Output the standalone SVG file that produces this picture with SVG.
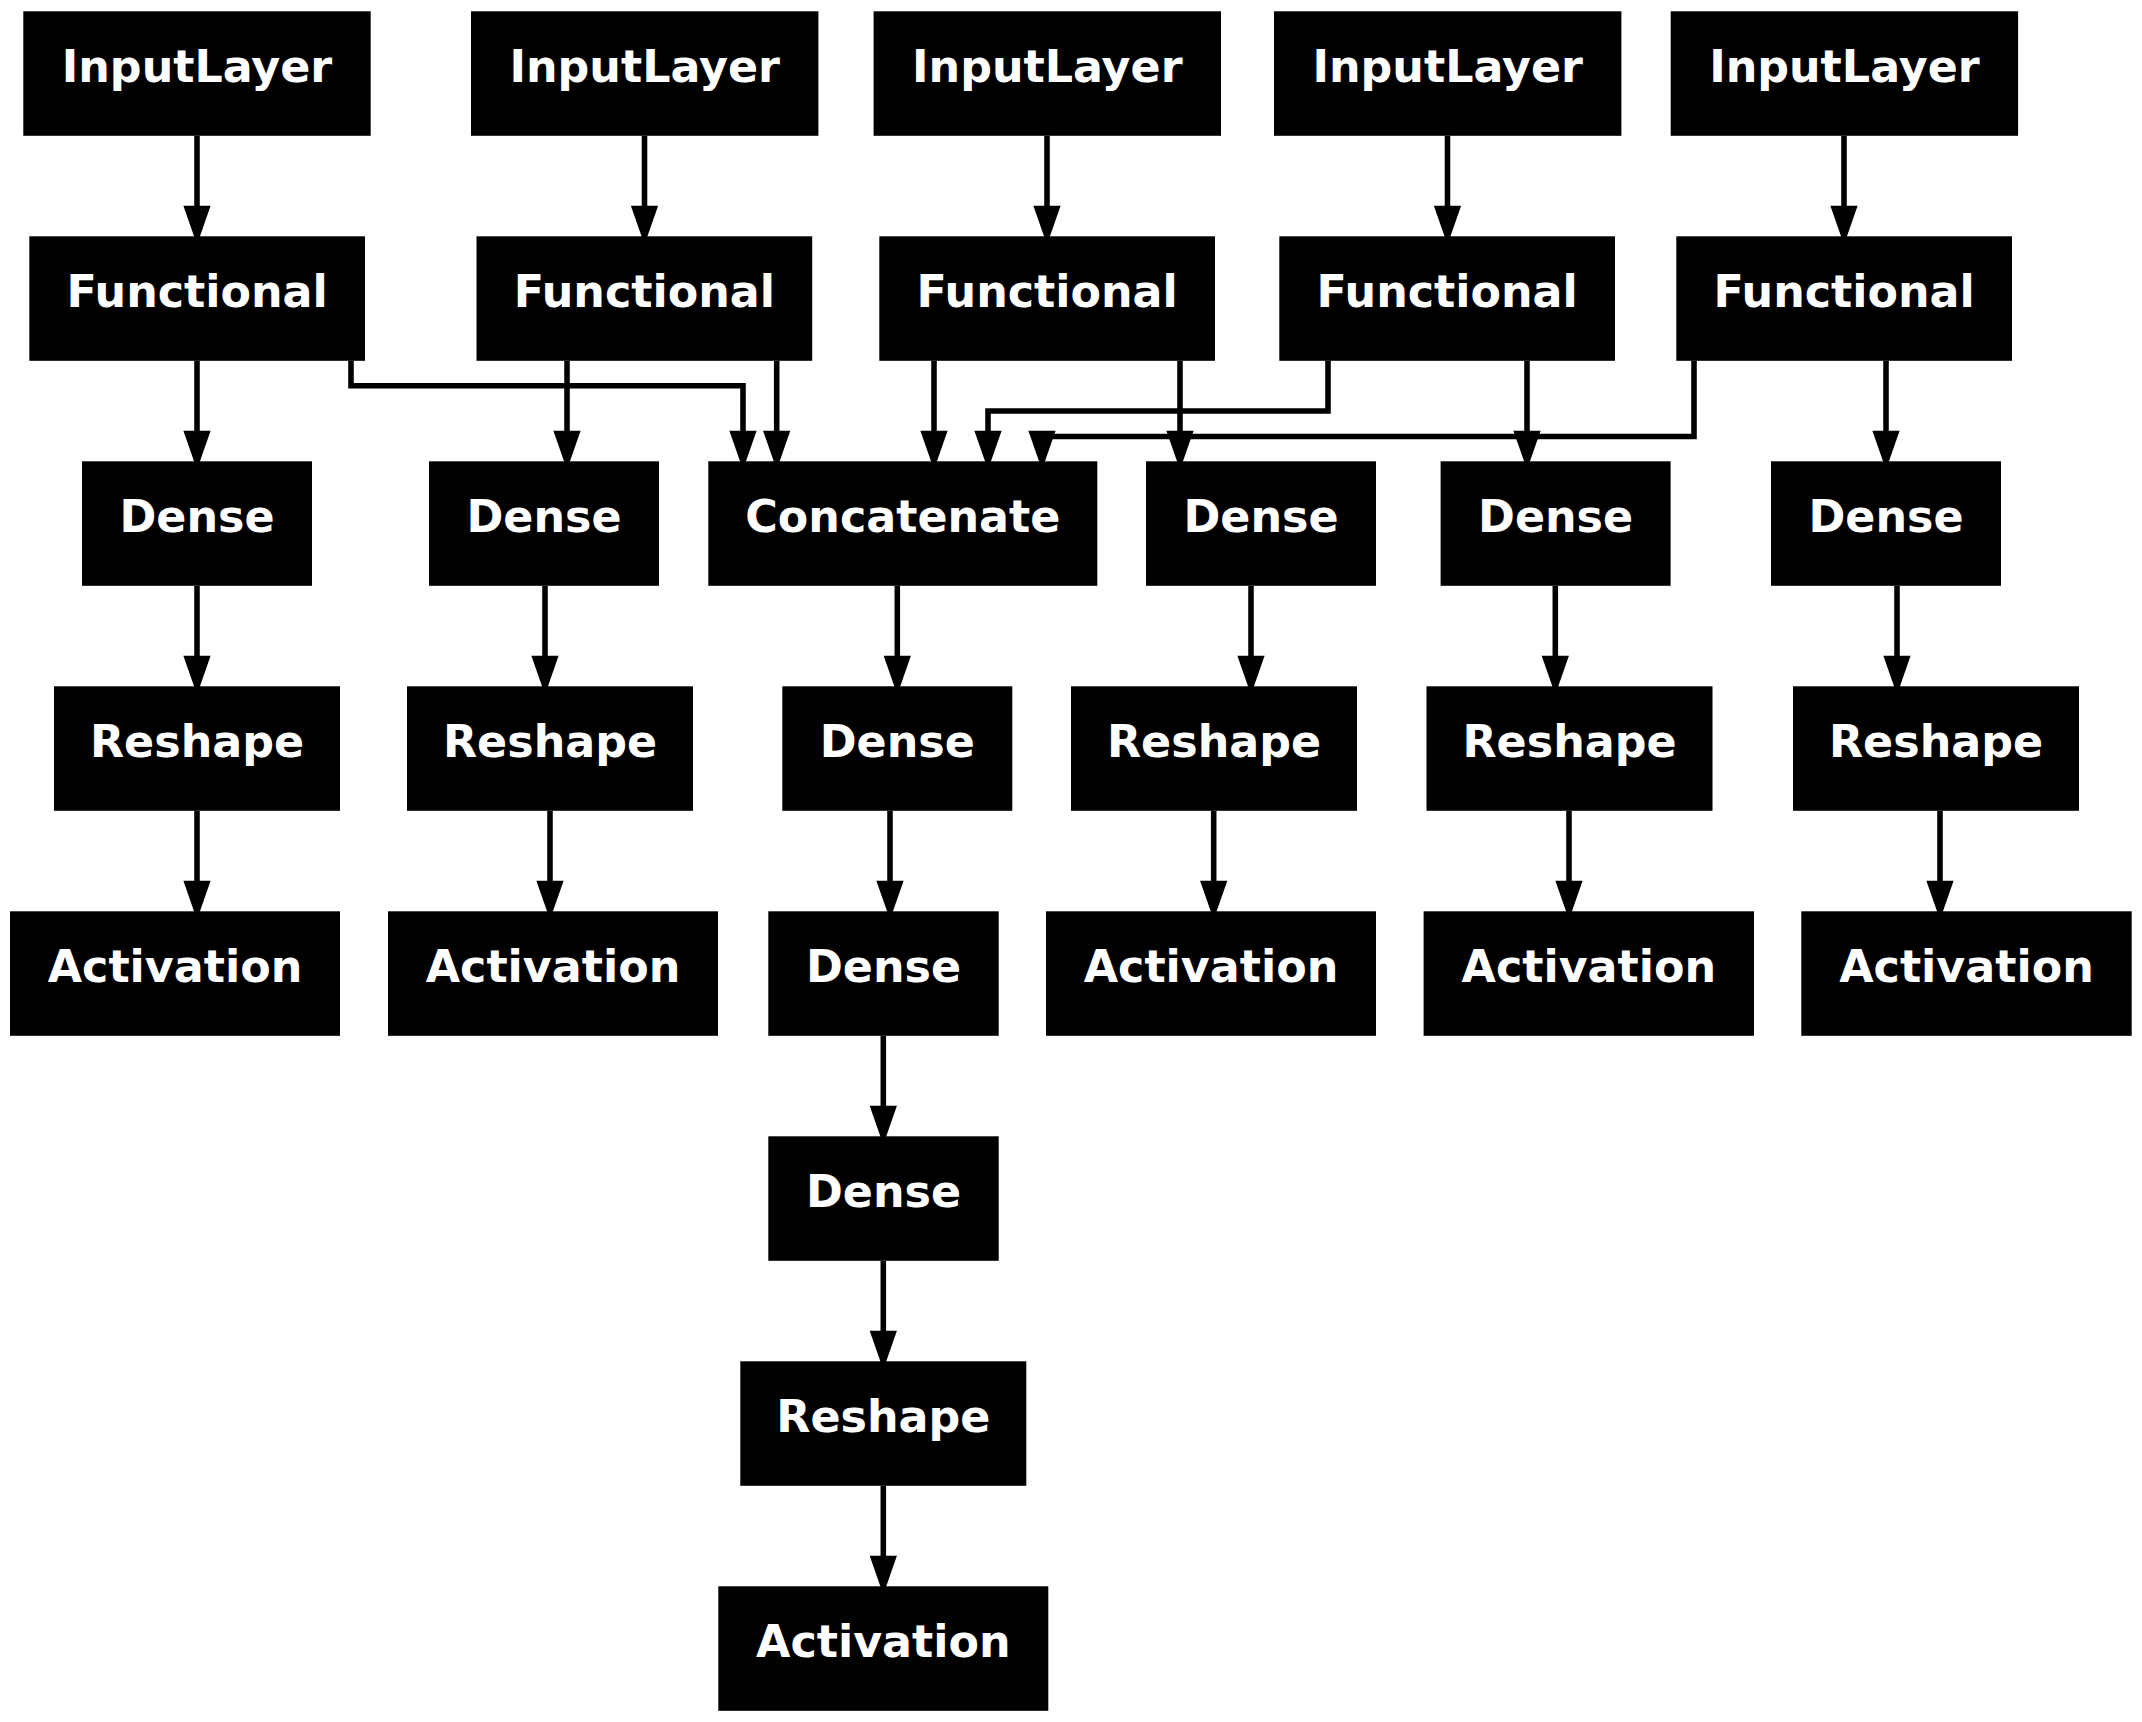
<svg xmlns="http://www.w3.org/2000/svg" width="2142" height="1722" viewBox="0 0 2142 1722">
<defs>
<style>
.n rect{fill:#000;}
.n text{fill:#fff;font-family:"DejaVu Sans","Liberation Sans",sans-serif;font-weight:bold;font-size:44.4px;text-anchor:middle;}
.e path{fill:none;stroke:#000;stroke-width:5.56;}
.e polygon{fill:#000;stroke:#000;stroke-width:5.56;}
</style>
</defs>
<rect width="2142" height="1722" fill="#fff"/>
<g id="nodes">
<g id="il1" class="n"><rect x="23.3" y="11.3" width="347.4" height="124.5"/><text x="197" y="81.7">InputLayer</text></g>
<g id="il2" class="n"><rect x="471" y="11.3" width="347.4" height="124.5"/><text x="644.7" y="81.7">InputLayer</text></g>
<g id="il3" class="n"><rect x="873.6" y="11.3" width="347.4" height="124.5"/><text x="1047.3" y="81.7">InputLayer</text></g>
<g id="il4" class="n"><rect x="1274" y="11.3" width="347.4" height="124.5"/><text x="1447.7" y="81.7">InputLayer</text></g>
<g id="il5" class="n"><rect x="1670.7" y="11.3" width="347.4" height="124.5"/><text x="1844.4" y="81.7">InputLayer</text></g>

<g id="fn1" class="n"><rect x="29.3" y="236.3" width="335.7" height="124.5"/><text x="197.1" y="306.7">Functional</text></g>
<g id="fn2" class="n"><rect x="476.5" y="236.3" width="335.7" height="124.5"/><text x="644.3" y="306.7">Functional</text></g>
<g id="fn3" class="n"><rect x="879.3" y="236.3" width="335.7" height="124.5"/><text x="1047.1" y="306.7">Functional</text></g>
<g id="fn4" class="n"><rect x="1279.3" y="236.3" width="335.7" height="124.5"/><text x="1447.1" y="306.7">Functional</text></g>
<g id="fn5" class="n"><rect x="1676.3" y="236.3" width="335.7" height="124.5"/><text x="1844.1" y="306.7">Functional</text></g>

<g id="d1" class="n"><rect x="82" y="461.3" width="230" height="124.5"/><text x="197" y="531.7">Dense</text></g>
<g id="d2" class="n"><rect x="429" y="461.3" width="230" height="124.5"/><text x="544" y="531.7">Dense</text></g>
<g id="cat" class="n"><rect x="708.3" y="461.3" width="389" height="124.5"/><text x="902.8" y="531.7">Concatenate</text></g>
<g id="d3" class="n"><rect x="1146" y="461.3" width="230" height="124.5"/><text x="1261" y="531.7">Dense</text></g>
<g id="d4" class="n"><rect x="1440.6" y="461.3" width="230" height="124.5"/><text x="1555.6" y="531.7">Dense</text></g>
<g id="d5" class="n"><rect x="1771" y="461.3" width="230" height="124.5"/><text x="1886" y="531.7">Dense</text></g>

<g id="r1" class="n"><rect x="54" y="686.3" width="286" height="124.5"/><text x="197" y="756.7">Reshape</text></g>
<g id="r2" class="n"><rect x="407" y="686.3" width="286" height="124.5"/><text x="550" y="756.7">Reshape</text></g>
<g id="dm1" class="n"><rect x="782.3" y="686.3" width="230" height="124.5"/><text x="897.3" y="756.7">Dense</text></g>
<g id="r3" class="n"><rect x="1071" y="686.3" width="286" height="124.5"/><text x="1214" y="756.7">Reshape</text></g>
<g id="r4" class="n"><rect x="1426.5" y="686.3" width="286" height="124.5"/><text x="1569.5" y="756.7">Reshape</text></g>
<g id="r5" class="n"><rect x="1793" y="686.3" width="286" height="124.5"/><text x="1936" y="756.7">Reshape</text></g>

<g id="a1" class="n"><rect x="10" y="911.3" width="330" height="124.5"/><text x="175" y="981.7">Activation</text></g>
<g id="a2" class="n"><rect x="388" y="911.3" width="330" height="124.5"/><text x="553" y="981.7">Activation</text></g>
<g id="dm2" class="n"><rect x="768.3" y="911.3" width="230.4" height="124.5"/><text x="883.5" y="981.7">Dense</text></g>
<g id="a3" class="n"><rect x="1046" y="911.3" width="330" height="124.5"/><text x="1211" y="981.7">Activation</text></g>
<g id="a4" class="n"><rect x="1423.6" y="911.3" width="330.4" height="124.5"/><text x="1588.8" y="981.7">Activation</text></g>
<g id="a5" class="n"><rect x="1801.3" y="911.3" width="330.4" height="124.5"/><text x="1966.5" y="981.7">Activation</text></g>

<g id="dm3" class="n"><rect x="768.3" y="1136.3" width="230.4" height="124.5"/><text x="883.5" y="1206.7">Dense</text></g>
<g id="rm" class="n"><rect x="740.3" y="1361.3" width="286" height="124.5"/><text x="883.3" y="1431.7">Reshape</text></g>
<g id="am" class="n"><rect x="718.3" y="1586.3" width="330" height="124.5"/><text x="883.3" y="1656.7">Activation</text></g>
</g>

<g id="connectors" class="e">
<!-- Input -> Functional -->
<path d="M197 135.8V208.5"/><polygon points="187.3,208.5 197,236.3 206.7,208.5"/>
<path d="M644.5 135.8V208.5"/><polygon points="634.8,208.5 644.5,236.3 654.2,208.5"/>
<path d="M1047 135.8V208.5"/><polygon points="1037.3,208.5 1047,236.3 1056.7,208.5"/>
<path d="M1447.5 135.8V208.5"/><polygon points="1437.8,208.5 1447.5,236.3 1457.2,208.5"/>
<path d="M1844 135.8V208.5"/><polygon points="1834.3,208.5 1844,236.3 1853.7,208.5"/>

<!-- Functional -> row 3 -->
<path d="M197 360.8V433.5"/><polygon points="187.3,433.5 197,461.3 206.7,433.5"/>
<path d="M351 360.8V385.8H743V433.5"/><polygon points="733.3,433.5 743,461.3 752.7,433.5"/>
<path d="M567 360.8V433.5"/><polygon points="557.3,433.5 567,461.3 576.7,433.5"/>
<path d="M776.7 360.8V433.5"/><polygon points="767,433.5 776.7,461.3 786.4,433.5"/>
<path d="M934 360.8V433.5"/><polygon points="924.3,433.5 934,461.3 943.7,433.5"/>
<path d="M1180 360.8V433.5"/><polygon points="1170.3,433.5 1180,461.3 1189.7,433.5"/>
<path d="M1328 360.8V411H988V433.5"/><polygon points="978.3,433.5 988,461.3 997.7,433.5"/>
<path d="M1527 360.8V433.5"/><polygon points="1517.3,433.5 1527,461.3 1536.7,433.5"/>
<path d="M1694 360.8V436.5H1042"/><polygon points="1032.3,433.5 1042,461.3 1051.7,433.5"/>
<path d="M1886 360.8V433.5"/><polygon points="1876.3,433.5 1886,461.3 1895.7,433.5"/>

<!-- row 3 -> row 4 -->
<path d="M197 585.8V658.5"/><polygon points="187.3,658.5 197,686.3 206.7,658.5"/>
<path d="M545 585.8V658.5"/><polygon points="535.3,658.5 545,686.3 554.7,658.5"/>
<path d="M897.3 585.8V658.5"/><polygon points="887.6,658.5 897.3,686.3 907,658.5"/>
<path d="M1251 585.8V658.5"/><polygon points="1241.3,658.5 1251,686.3 1260.7,658.5"/>
<path d="M1555.3 585.8V658.5"/><polygon points="1545.6,658.5 1555.3,686.3 1565,658.5"/>
<path d="M1897 585.8V658.5"/><polygon points="1887.3,658.5 1897,686.3 1906.7,658.5"/>

<!-- row 4 -> row 5 -->
<path d="M197 810.8V883.5"/><polygon points="187.3,883.5 197,911.3 206.7,883.5"/>
<path d="M550 810.8V883.5"/><polygon points="540.3,883.5 550,911.3 559.7,883.5"/>
<path d="M890 810.8V883.5"/><polygon points="880.3,883.5 890,911.3 899.7,883.5"/>
<path d="M1213.7 810.8V883.5"/><polygon points="1204,883.5 1213.7,911.3 1223.4,883.5"/>
<path d="M1569 810.8V883.5"/><polygon points="1559.3,883.5 1569,911.3 1578.7,883.5"/>
<path d="M1940 810.8V883.5"/><polygon points="1930.3,883.5 1940,911.3 1949.7,883.5"/>

<!-- middle chain -->
<path d="M883.3 1035.8V1108.5"/><polygon points="873.6,1108.5 883.3,1136.3 893,1108.5"/>
<path d="M883.3 1260.8V1333.5"/><polygon points="873.6,1333.5 883.3,1361.3 893,1333.5"/>
<path d="M883.3 1485.8V1558.5"/><polygon points="873.6,1558.5 883.3,1586.3 893,1558.5"/>
</g>
</svg>
